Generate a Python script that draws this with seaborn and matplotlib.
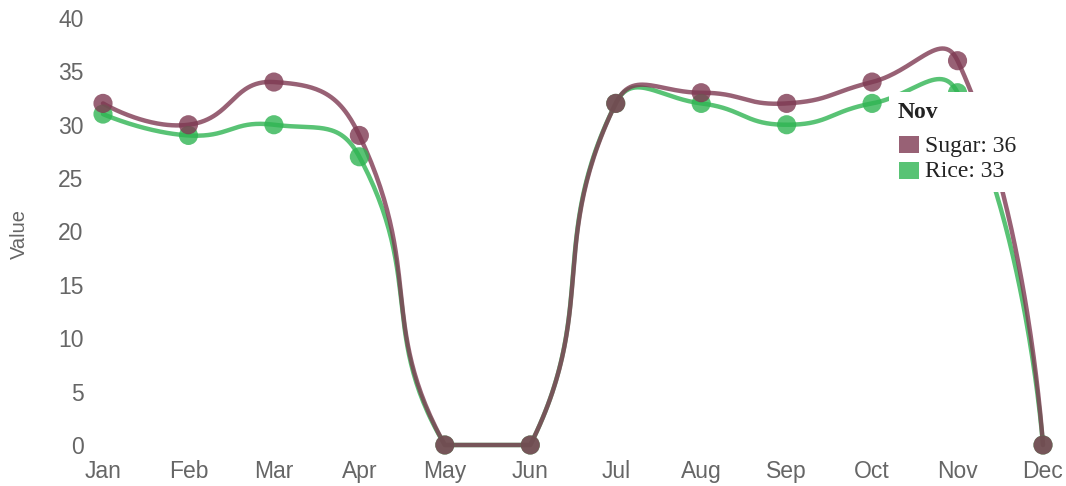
import numpy as np
import pandas as pd
import matplotlib
matplotlib.use("Agg")
import matplotlib.pyplot as plt
import seaborn as sns
from matplotlib.patches import Rectangle

months = ["Jan", "Feb", "Mar", "Apr", "May", "Jun", "Jul", "Aug", "Sep", "Oct", "Nov", "Dec"]
sugar = [32, 30, 34, 29, 0, 0, 32, 33, 32, 34, 36, 0]
rice = [31, 29, 30, 27, 0, 0, 32, 32, 30, 32, 33, 0]

SUGAR_COLOR = "#7e3a52"
RICE_COLOR = "#2fb452"
Y_MIN, Y_MAX = 0, 40


def smooth_path(ax, values, smooth=0.5, steps=60):
    """Bezier smoothing in screen space; control points are kept inside the plot area."""
    trans = ax.transData
    pts = trans.transform(np.column_stack([np.arange(len(values)), values]).astype(float))
    lo = trans.transform([(0, Y_MIN)])[0]
    hi = trans.transform([(len(values) - 1, Y_MAX)])[0]
    box_min = np.minimum(lo, hi)
    box_max = np.maximum(lo, hi)
    n = len(pts)
    cps = [pts[0].copy()]
    for i in range(1, n - 1):
        p, prev, nxt = pts[i], pts[i - 1], pts[i + 1]
        v = (nxt - prev) * smooth
        d0 = np.hypot(*(p - prev))
        d1 = np.hypot(*(p - nxt))
        tot = d0 + d1
        if tot:
            d0, d1 = d0 / tot, d1 / tot
        cp0 = np.clip(p - v * d0, box_min, box_max)
        cp1 = np.clip(p + v * d1, box_min, box_max)
        cps += [cp0, cp1]
    cps.append(pts[-1].copy())
    out = []
    t = np.linspace(0, 1, steps)[:, None]
    for i in range(n - 1):
        a, b, c, d = pts[i], cps[2 * i], cps[2 * i + 1], pts[i + 1]
        seg = ((1 - t) ** 3) * a + 3 * ((1 - t) ** 2) * t * b + 3 * (1 - t) * t**2 * c + t**3 * d
        out.append(seg if i == 0 else seg[1:])
    xy = trans.inverted().transform(np.vstack(out))
    return xy[:, 0], xy[:, 1]


sns.set_style("white")
plt.rcParams["font.family"] = ["Liberation Sans", "DejaVu Sans"]

fig = plt.figure(figsize=(10.66, 4.86), dpi=100)
ax = fig.add_axes([103 / 1066, 41 / 486, 940 / 1066, 427 / 486])
ax.set_xlim(0, len(months) - 1)
ax.set_ylim(Y_MIN, Y_MAX)

palette = {"Sugar": SUGAR_COLOR, "Rice": RICE_COLOR}
series = {"Rice": rice, "Sugar": sugar}

curves, points = [], []
for name, vals in series.items():
    cx, cy = smooth_path(ax, vals)
    curves.append(pd.DataFrame({"x": cx, "y": cy, "series": name}))
    points.append(pd.DataFrame({"x": np.arange(len(months)), "y": vals, "series": name}))
curve_df = pd.concat(curves, ignore_index=True)
point_df = pd.concat(points, ignore_index=True)

for name in ["Rice", "Sugar"]:
    sub = curve_df[curve_df.series == name]
    sns.lineplot(data=sub, x="x", y="y", color=palette[name], lw=3.2,
                 alpha=0.8, ax=ax, sort=False, legend=False, clip_on=False)
    pts = point_df[point_df.series == name]
    sns.scatterplot(data=pts, x="x", y="y", color=palette[name], s=190,
                    alpha=0.8, edgecolor="none", ax=ax, legend=False,
                    clip_on=False, zorder=3)

ax.set_xlim(0, len(months) - 1)
ax.set_ylim(Y_MIN, Y_MAX)
ax.set_xticks(range(len(months)))
ax.set_xticklabels(months)
ax.set_yticks(range(0, 41, 5))
ax.tick_params(axis="both", length=0, labelsize=16.5, labelcolor="#666666")
ax.tick_params(axis="y", pad=14)
ax.tick_params(axis="x", pad=11)
ax.set_xlabel("")
ax.set_ylabel("Value", fontsize=14.5, color="#666666")
ax.yaxis.label.set_va("center")
ax.yaxis.set_label_coords(-84 / 940, (445 - 234) / 427)
for s in ax.spines.values():
    s.set_visible(False)

# hover tooltip for November
box = Rectangle((889 / 1066, 1 - 192 / 486), 137 / 1066, 100 / 486,
                transform=fig.transFigure, facecolor="white", edgecolor="none",
                zorder=10)
fig.patches.append(box)
serif = ["Liberation Serif", "DejaVu Serif"]
fig.text(898 / 1066, 1 - 118 / 486, months[10], family=serif, fontsize=17,
         fontweight="bold", color="#222222", va="baseline", zorder=11)
rows = [("Sugar", sugar[10], 152, 136), ("Rice", rice[10], 177, 162)]
for name, val, base, top in rows:
    fig.patches.append(Rectangle((899 / 1066, 1 - (top + 17) / 486), 20 / 1066, 17 / 486,
                                 transform=fig.transFigure,
                                 facecolor=palette[name], alpha=0.8,
                                 edgecolor="none", zorder=11))
    fig.text(925 / 1066, 1 - base / 486, f"{name}: {val}", family=serif, fontsize=17,
             color="#222222", va="baseline", zorder=11)

fig.savefig("out.png", dpi=100)
